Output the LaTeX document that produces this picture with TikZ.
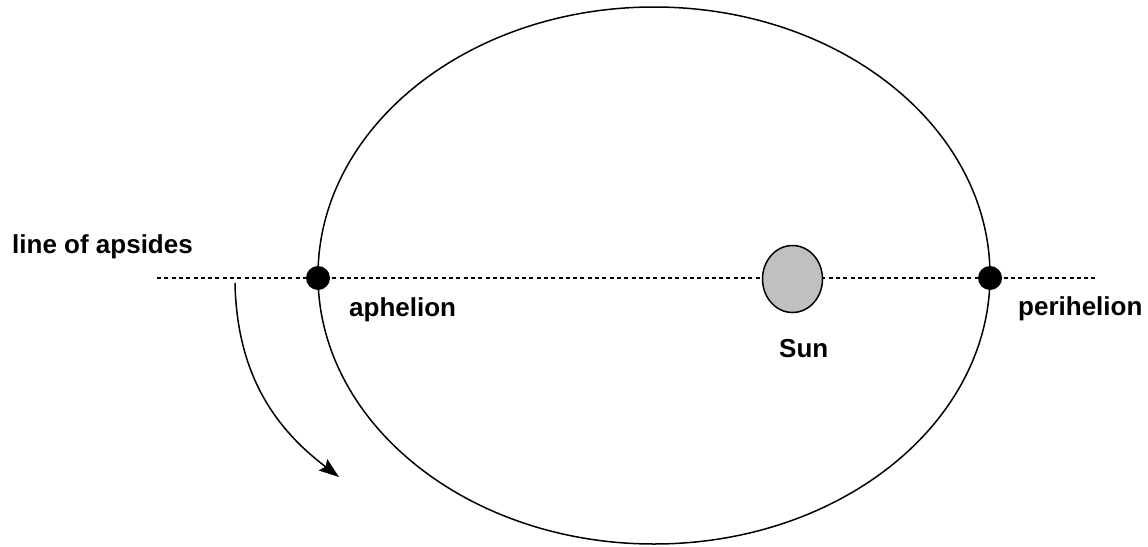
\documentclass[tikz,border=0pt]{standalone}
\usepackage{fontspec}
\setmainfont{Liberation Sans}
\usetikzlibrary{arrows.meta,shapes.geometric}
\definecolor{sungray}{RGB}{192,192,192}
\begin{document}
\begin{tikzpicture}[x=1pt,y=-1pt,
  lbl/.style={font=\fontsize{26}{30}\selectfont\bfseries, inner sep=0pt, anchor=base west},
  apsis/.style={circle, fill=black, minimum size=24pt, inner sep=0pt},
  orbit/.style={line width=1.5pt},
  axisline/.style={line width=1.5pt, dash pattern=on 4pt off 3.3pt},
  sunbody/.style={ellipse, draw, line width=1.5pt, fill=sungray, minimum width=60pt, minimum height=67pt, inner sep=0pt},
  turn/.style={line width=1.5pt, -{Stealth[length=20pt,width=14pt,inset=3pt]}}]
\useasboundingbox (0,0) rectangle (1148,546);
\coordinate (L) at (157,278);
\coordinate (R) at (1097,278);
\draw[axisline] (L) -- (R);
\node[orbit, draw, ellipse, minimum width=672pt, minimum height=537pt, inner sep=0pt] (orb) at (654,275.5) {};
\node[apsis] (aph) at (318,278) {};
\node[apsis] (per) at (990,278) {};
\node[sunbody] (sun) at (792.5,279) {};
\coordinate (a0) at (235,283);
\coordinate (a1) at (339,477);
\draw[turn] (a0) .. controls (237,380) and (280,432) .. (a1);
\node[lbl] (lap) at (12,253) {line of apsides};
\node[lbl] (laph) at (349,316) {aphelion};
\node[lbl] (lper) at (1018,315) {perihelion};
\node[lbl] (lsun) at (779,357) {Sun};
\end{tikzpicture}
\end{document}
